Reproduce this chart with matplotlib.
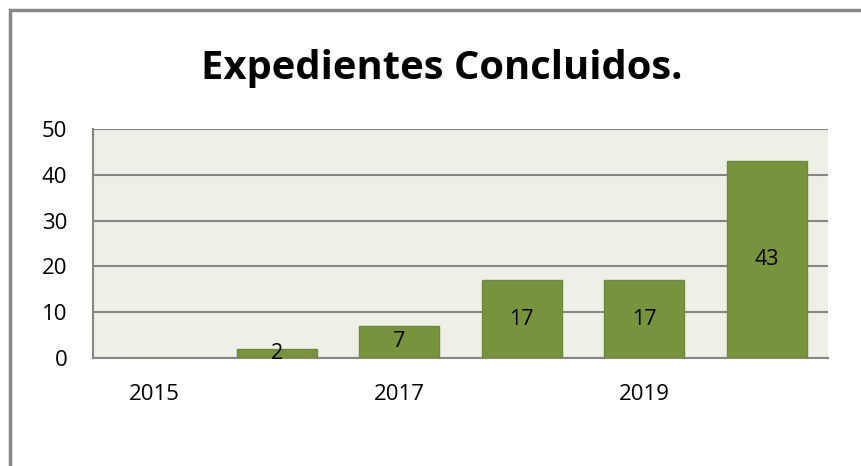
#bar chart of concluded files per year
import matplotlib.pyplot as plt
from matplotlib.patches import Rectangle

years = ['2015', '2016', '2017', '2018', '2019', '2020']
concluidos = [0, 2, 7, 17, 17, 43]
tick_labels = ['2015', '', '2017', '', '2019', '']

plt.rcParams['font.family'] = ['Open Sans', 'DejaVu Sans']

fig = plt.figure(figsize=(8.62, 4.66), dpi=100)

#outer chart frame (only top and left edges visible)
fig.patches.append(Rectangle((10/862, -0.1), 1.0, 1 - 10/466 + 0.1,
                             transform=fig.transFigure, fill=False,
                             edgecolor='#868686', linewidth=2.5))

ax = fig.add_axes([93/862, 1 - 358/466, 735/862, 229/466])
ax.set_facecolor('#eef0e8')

x = range(len(years))
bars = ax.bar(x, concluidos, width=0.65, color='#77933c',
              edgecolor='#6e8a37', linewidth=1, zorder=3)
ax.bar_label(bars, labels=[str(v) if v else '' for v in concluidos],
             label_type='center', fontsize=15.5, color='black')

ax.set_xlim(-0.5, len(years) - 0.5)
ax.set_ylim(0, 50)
ax.set_yticks([0, 10, 20, 30, 40, 50])
ax.set_xticks(list(x))
ax.set_xticklabels(tick_labels)
ax.tick_params(axis='both', length=0, labelsize=16)
ax.tick_params(axis='x', pad=19)
ax.tick_params(axis='y', pad=18.5)
ax.yaxis.grid(True, color='#868686', linewidth=1.5, zorder=1)
ax.set_axisbelow(True)

for side in ['top', 'right']:
    ax.spines[side].set_visible(False)
for side in ['left', 'bottom']:
    ax.spines[side].set_color('#868686')
    ax.spines[side].set_linewidth(1.5)

fig.text(442/862, 1 - 79/466, 'Expedientes Concluidos.', ha='center',
         va='baseline', fontsize=28.8, fontweight='bold')

fig.savefig('out.png', dpi=100)
